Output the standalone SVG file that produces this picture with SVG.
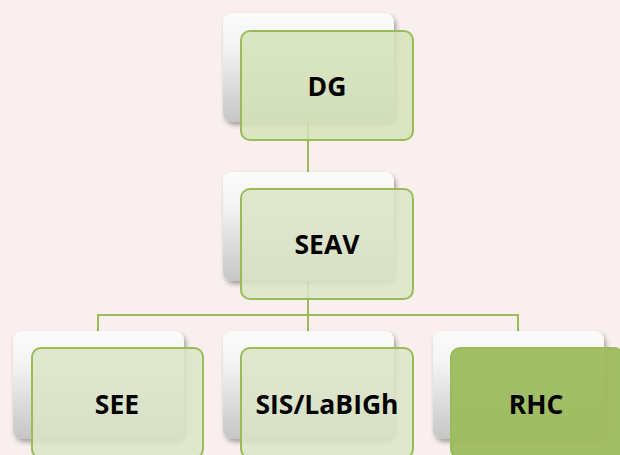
<svg xmlns="http://www.w3.org/2000/svg" width="620" height="455" viewBox="0 0 620 455">
  <defs>
    <linearGradient id="backFill" x1="0" y1="0" x2="0" y2="1">
      <stop offset="0" stop-color="#fbfbfb"/>
      <stop offset="0.3" stop-color="#f4f4f4"/>
      <stop offset="1" stop-color="#c6c6c6"/>
    </linearGradient>
    <filter id="shadow" x="-10%" y="-10%" width="125%" height="130%">
      <feGaussianBlur in="SourceAlpha" stdDeviation="2.5"/>
      <feOffset dx="2" dy="3" result="b"/>
      <feComponentTransfer><feFuncA type="linear" slope="0.35"/></feComponentTransfer>
      <feMerge><feMergeNode/><feMergeNode in="SourceGraphic"/></feMerge>
    </filter>
    <style>
      .back { fill: url(#backFill); filter: url(#shadow); }
      .front { stroke: #9bbb59; stroke-width: 2; fill-opacity: 0.85; }
      .pale { fill: #dae5c7; }
      .light { fill: #d5e3b8; }
      .dark { fill: #9dba5e; fill-opacity: 0.95; stroke: #9bbb59; }
      .label { font-family: "Open Sans", "Liberation Sans", sans-serif; font-weight: bold; font-size: 26.5px; fill: #000; text-anchor: middle; dominant-baseline: central; }
      .link { stroke: #9bbb59; stroke-width: 2; fill: none; }
    </style>
  </defs>

  <rect width="620" height="455" fill="#f8efee"/>

  <!-- connectors sit beneath the cards -->
  <g id="connectors">
    <line class="link" x1="308" y1="120" x2="308" y2="175"/>
    <line class="link" x1="308" y1="280" x2="308" y2="334"/>
    <polyline class="link" points="98,334 98,315 518,315 518,334"/>
  </g>

  <g id="node-dg">
    <rect class="back" x="223" y="13" width="171" height="109" rx="9"/>
    <rect class="front light" x="241" y="31" width="172" height="109" rx="9"/>
    <text class="label" x="327" y="86">DG</text>
  </g>

  <g id="node-seav">
    <rect class="back" x="223" y="172" width="171" height="109" rx="9"/>
    <rect class="front pale" x="241" y="189" width="172" height="110" rx="9"/>
    <text class="label" x="327" y="244">SEAV</text>
  </g>

  <g id="node-see">
    <rect class="back" x="13" y="331" width="171" height="108" rx="9"/>
    <rect class="front pale" x="32" y="348" width="171" height="110" rx="9"/>
    <text class="label" x="117" y="404">SEE</text>
  </g>

  <g id="node-sis">
    <rect class="back" x="223" y="331" width="171" height="108" rx="9"/>
    <rect class="front pale" x="241" y="348" width="172" height="110" rx="9"/>
    <text class="label" x="327" y="404">SIS/LaBIGh</text>
  </g>

  <g id="node-rhc">
    <rect class="back" x="433" y="331" width="171" height="108" rx="9"/>
    <rect class="front dark" x="451" y="348" width="172" height="110" rx="9"/>
    <text class="label" x="536" y="404">RHC</text>
  </g>
</svg>
